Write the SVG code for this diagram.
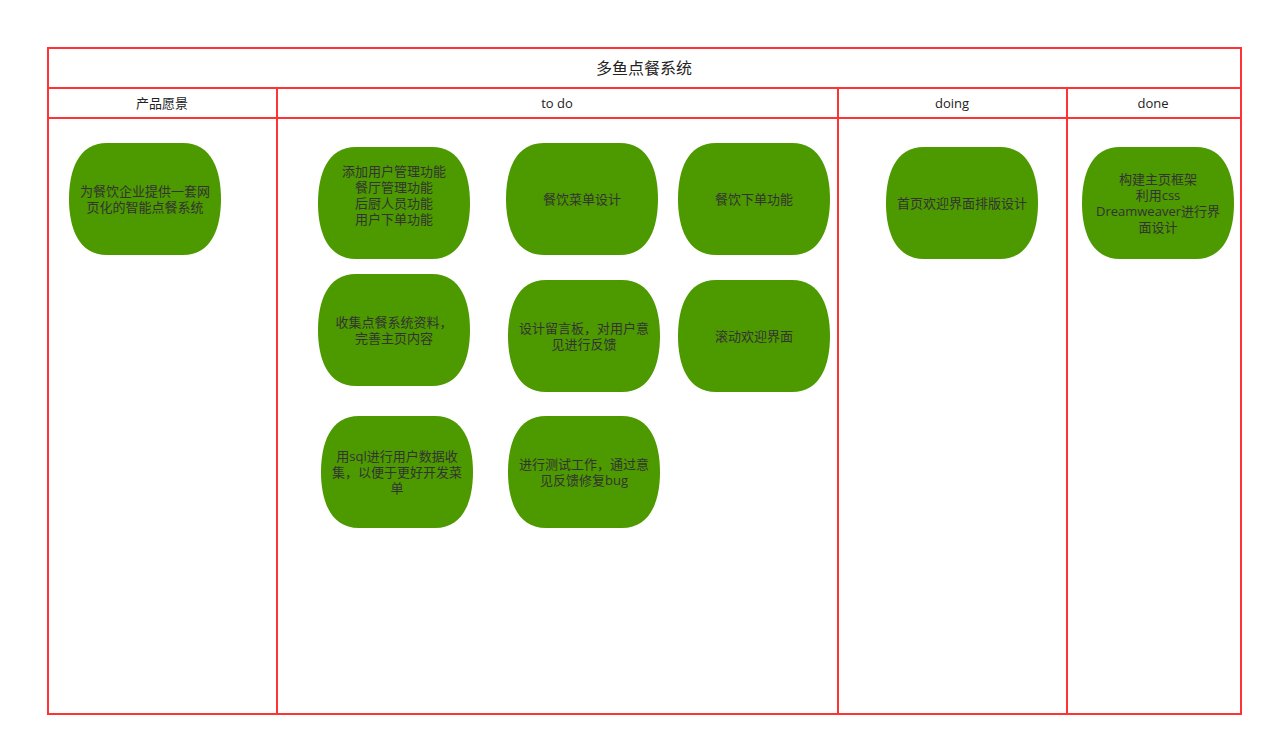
<svg xmlns="http://www.w3.org/2000/svg" width="1273" height="746" viewBox="0 0 1273 746">
<defs>
<style>
.ln{stroke:#ff3333;stroke-width:2;fill:none}
.nd{fill:#4d9900}
.t{font-family:"Open Sans","Noto Sans CJK SC",sans-serif;font-size:13px;fill:#333;text-anchor:middle}
.h{font-family:"Open Sans","Noto Sans CJK SC",sans-serif;font-size:13px;fill:#222;text-anchor:middle}
.ti{font-family:"Open Sans","Noto Sans CJK SC",sans-serif;font-size:16px;fill:#222;text-anchor:middle}
</style>
<path id="shp" d="M38,0 H114 C143,0 152,28 152,56 C152,84 143,112 114,112 H38 C9,112 0,84 0,56 C0,28 9,0 38,0 Z"/>
</defs>
<rect width="1273" height="746" fill="#fff"/>
<g id="pool">
<rect class="ln" x="48" y="48" width="1193" height="666"/>
<line class="ln" x1="48" y1="88" x2="1241" y2="88"/>
<line class="ln" x1="48" y1="118" x2="1241" y2="118"/>
<line class="ln" x1="277" y1="88" x2="277" y2="714"/>
<line class="ln" x1="838" y1="88" x2="838" y2="714"/>
<line class="ln" x1="1067" y1="88" x2="1067" y2="714"/>
<text class="ti" x="644" y="74">多鱼点餐系统</text>
<text class="h" x="162" y="108">产品愿景</text>
<text class="h" x="557" y="108">to do</text>
<text class="h" x="952" y="108">doing</text>
<text class="h" x="1153" y="108">done</text>
</g>
<g id="connectors"></g>
<g id="n1"><use href="#shp" class="nd" x="69" y="143"/><text class="t" x="145" y="196">为餐饮企业提供一套网</text><text class="t" x="145" y="212">页化的智能点餐系统</text></g>
<g id="n2"><use href="#shp" class="nd" x="318" y="147"/><text class="t" x="394" y="176">添加用户管理功能</text><text class="t" x="394" y="192">餐厅管理功能</text><text class="t" x="394" y="208">后厨人员功能</text><text class="t" x="394" y="224">用户下单功能</text></g>
<g id="n3"><use href="#shp" class="nd" x="506" y="143"/><text class="t" x="582" y="204">餐饮菜单设计</text></g>
<g id="n4"><use href="#shp" class="nd" x="678" y="143"/><text class="t" x="754" y="204">餐饮下单功能</text></g>
<g id="n5"><use href="#shp" class="nd" x="318" y="274"/><text class="t" x="394" y="327">收集点餐系统资料，</text><text class="t" x="394" y="343">完善主页内容</text></g>
<g id="n6"><use href="#shp" class="nd" x="508" y="280"/><text class="t" x="584" y="333">设计留言板，对用户意</text><text class="t" x="584" y="349">见进行反馈</text></g>
<g id="n7"><use href="#shp" class="nd" x="678" y="280"/><text class="t" x="754" y="341">滚动欢迎界面</text></g>
<g id="n8"><use href="#shp" class="nd" x="321" y="416"/><text class="t" x="397" y="461">用sql进行用户数据收</text><text class="t" x="397" y="477">集，以便于更好开发菜</text><text class="t" x="397" y="493">单</text></g>
<g id="n9"><use href="#shp" class="nd" x="508" y="416"/><text class="t" x="584" y="469">进行测试工作，通过意</text><text class="t" x="584" y="485">见反馈修复bug</text></g>
<g id="n10"><use href="#shp" class="nd" x="886" y="147"/><text class="t" x="962" y="208">首页欢迎界面排版设计</text></g>
<g id="n11"><use href="#shp" class="nd" x="1082" y="147"/><text class="t" x="1158" y="184">构建主页框架</text><text class="t" x="1158" y="200">利用css</text><text class="t" x="1158" y="216">Dreamweaver进行界</text><text class="t" x="1158" y="232">面设计</text></g>
</svg>
